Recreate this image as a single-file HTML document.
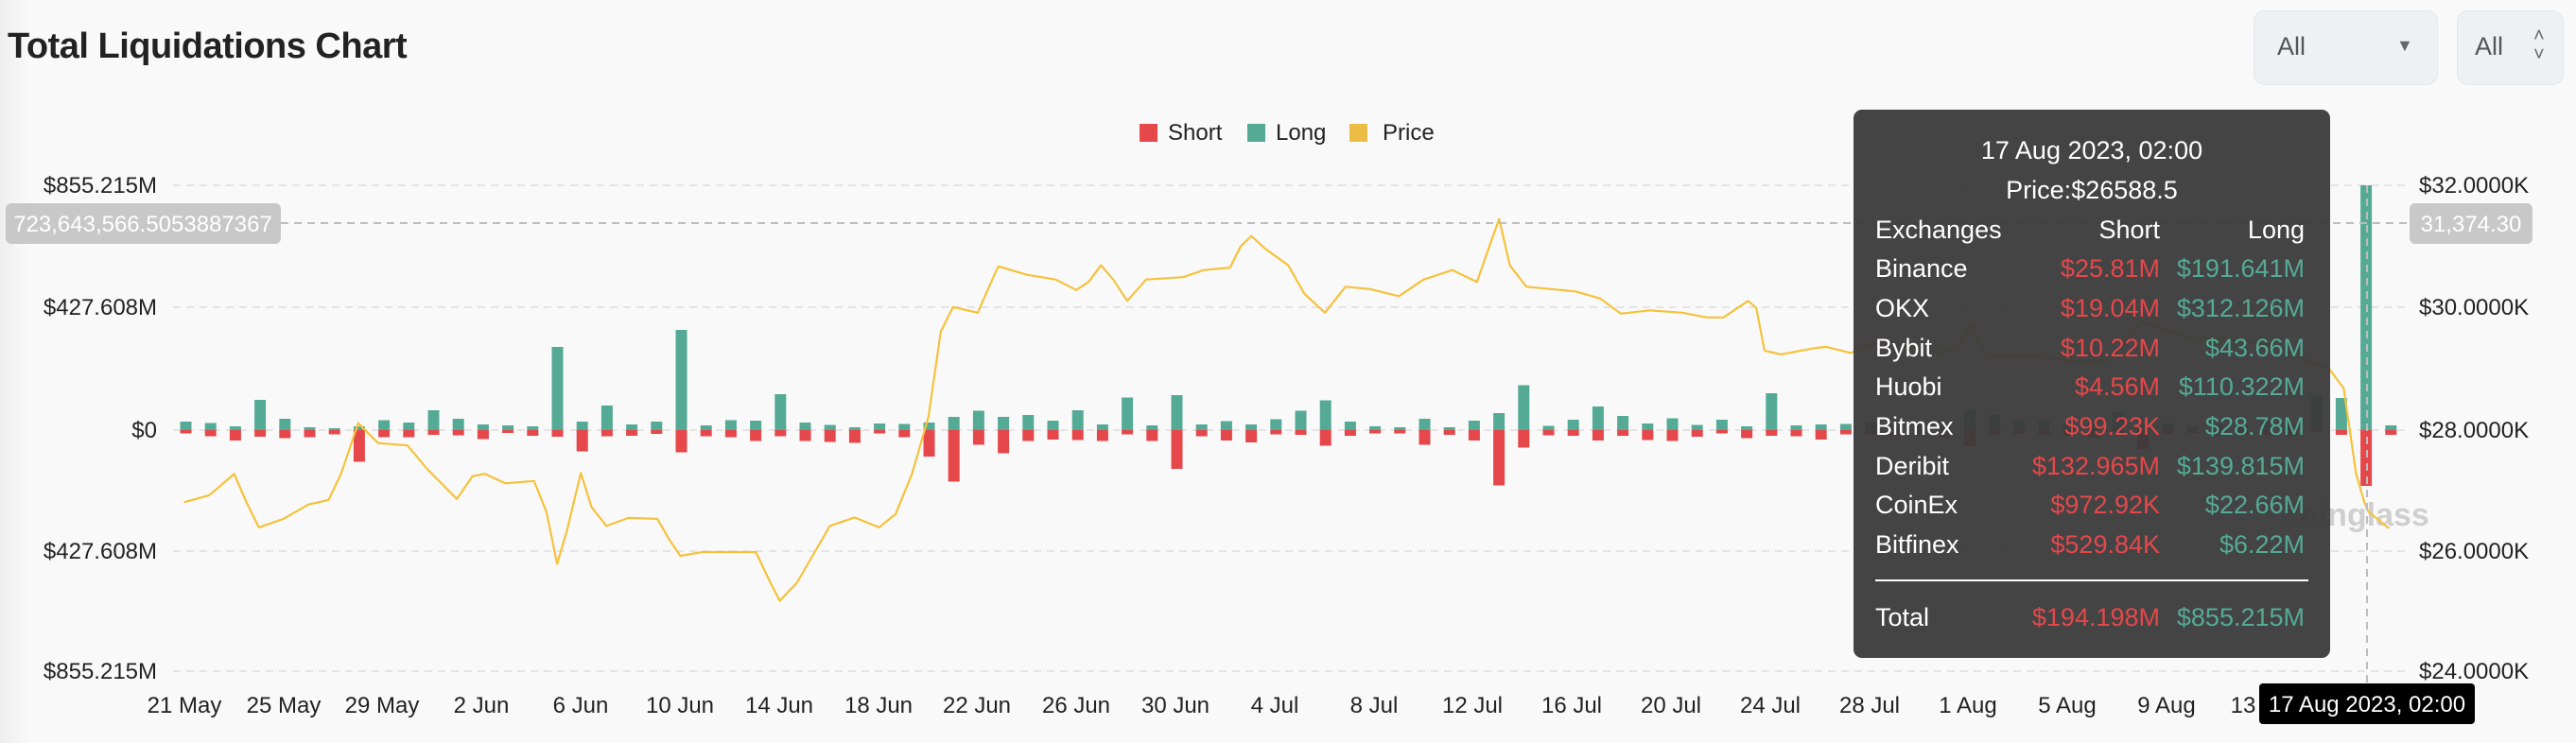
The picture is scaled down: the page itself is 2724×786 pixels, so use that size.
<!DOCTYPE html>
<html><head><meta charset="utf-8"><style>
html,body{margin:0;padding:0;}
body{width:2724px;height:786px;overflow:hidden;background:#f9f9f9;font-family:"Liberation Sans",sans-serif;position:relative;}
.sh{position:absolute;left:0;top:0;width:30px;height:786px;background:linear-gradient(to right,#eeeeee,#f9f9f9);}
.title{position:absolute;left:8px;top:28px;font-size:38px;font-weight:bold;color:#222;letter-spacing:-0.5px;}
.dd{position:absolute;top:11px;height:79px;background:#eef0f3;border-radius:12px;border:1px solid #e4e6ea;box-sizing:border-box;font-size:27px;color:#555;}
</style></head><body>
<div class="sh"></div>
<div class="title">Total Liquidations Chart</div>
<div class="dd" style="left:2383px;width:195px;"><span style="position:absolute;left:24px;top:22px;">All</span><span style="position:absolute;left:150px;top:26px;font-size:18px;color:#666;">▼</span></div>
<div class="dd" style="left:2598px;width:113px;"><span style="position:absolute;left:18px;top:22px;">All</span><span style="position:absolute;left:80px;top:16px;font-size:20px;line-height:20px;color:#666;">˄<br>˅</span></div>
<svg width="2724" height="786" style="position:absolute;left:0;top:0" font-family="Liberation Sans, sans-serif">
<g fill="#222" font-size="24">
<rect x="1205" y="131" width="19" height="19" fill="#e5474b"/><text x="1235" y="148">Short</text>
<rect x="1319" y="131" width="19" height="19" fill="#55aa95"/><text x="1349" y="148">Long</text>
<rect x="1427" y="131" width="19" height="19" fill="#ebbd45"/><text x="1462" y="148">Price</text>
</g>
<g stroke="#e4e4e4" stroke-width="2" stroke-dasharray="8,6">
<line x1="183" y1="196" x2="2545" y2="196"/><line x1="183" y1="325" x2="2545" y2="325"/><line x1="183" y1="455" x2="2545" y2="455"/><line x1="183" y1="583" x2="2545" y2="583"/><line x1="183" y1="710" x2="2545" y2="710"/>
</g>
<g font-size="24" fill="#222" text-anchor="end">
<text x="166" y="204">$855.215M</text><text x="166" y="333">$427.608M</text><text x="166" y="463">$0</text><text x="166" y="591">$427.608M</text><text x="166" y="718">$855.215M</text>
</g>
<g font-size="24" fill="#222">
<text x="2558" y="204">$32.0000K</text><text x="2558" y="333">$30.0000K</text><text x="2558" y="463">$28.0000K</text><text x="2558" y="591">$26.0000K</text><text x="2558" y="718">$24.0000K</text>
</g>
<g font-size="24" fill="#222" text-anchor="middle">
<text x="195" y="754">21 May</text><text x="300" y="754">25 May</text><text x="404" y="754">29 May</text><text x="509" y="754">2 Jun</text><text x="614" y="754">6 Jun</text><text x="719" y="754">10 Jun</text><text x="824" y="754">14 Jun</text><text x="929" y="754">18 Jun</text><text x="1033" y="754">22 Jun</text><text x="1138" y="754">26 Jun</text><text x="1243" y="754">30 Jun</text><text x="1348" y="754">4 Jul</text><text x="1453" y="754">8 Jul</text><text x="1557" y="754">12 Jul</text><text x="1662" y="754">16 Jul</text><text x="1767" y="754">20 Jul</text><text x="1872" y="754">24 Jul</text><text x="1977" y="754">28 Jul</text><text x="2081" y="754">1 Aug</text><text x="2186" y="754">5 Aug</text><text x="2291" y="754">9 Aug</text><text x="2396" y="754">13 Aug</text>
</g>
<text x="2412" y="556" font-size="34" font-weight="bold" fill="#cfcfcf">coinglass</text>
<g transform="translate(1,0)">
<g fill="#55aa95">
<rect x="189.5" y="446" width="12" height="9"/><rect x="215.7" y="447.5" width="12" height="7.5"/><rect x="241.9" y="451" width="12" height="4"/><rect x="268.1" y="423" width="12" height="32"/><rect x="294.3" y="443" width="12" height="12"/><rect x="320.5" y="452" width="12" height="3"/><rect x="346.7" y="453" width="12" height="2"/><rect x="372.9" y="451" width="12" height="4"/><rect x="399.1" y="444.5" width="12" height="10.5"/><rect x="425.3" y="447" width="12" height="8"/>
<rect x="451.5" y="434" width="12" height="21"/><rect x="477.7" y="443" width="12" height="12"/><rect x="503.9" y="449" width="12" height="6"/><rect x="530.1" y="450" width="12" height="5"/><rect x="556.3" y="451" width="12" height="4"/><rect x="582.5" y="367" width="12" height="88"/><rect x="608.7" y="446" width="12" height="9"/><rect x="634.9" y="429" width="12" height="26"/><rect x="661.1" y="449" width="12" height="6"/><rect x="687.3" y="446" width="12" height="9"/>
<rect x="713.5" y="349" width="12" height="106"/><rect x="739.7" y="450" width="12" height="5"/><rect x="765.9" y="444.5" width="12" height="10.5"/><rect x="792.1" y="445" width="12" height="10"/><rect x="818.3" y="417" width="12" height="38"/><rect x="844.5" y="447" width="12" height="8"/><rect x="870.7" y="449.5" width="12" height="5.5"/><rect x="896.9" y="452" width="12" height="3"/><rect x="923.1" y="448" width="12" height="7"/><rect x="949.3" y="448.5" width="12" height="6.5"/>
<rect x="975.5" y="447" width="12" height="8"/><rect x="1001.7" y="441" width="12" height="14"/><rect x="1027.9" y="434.5" width="12" height="20.5"/><rect x="1054.1" y="441" width="12" height="14"/><rect x="1080.3" y="439" width="12" height="16"/><rect x="1106.5" y="445" width="12" height="10"/><rect x="1132.7" y="434" width="12" height="21"/><rect x="1158.9" y="449" width="12" height="6"/><rect x="1185.1" y="420.5" width="12" height="34.5"/><rect x="1211.3" y="450" width="12" height="5"/>
<rect x="1237.5" y="418" width="12" height="37"/><rect x="1263.7" y="449" width="12" height="6"/><rect x="1289.9" y="445.5" width="12" height="9.5"/><rect x="1316.1" y="449" width="12" height="6"/><rect x="1342.3" y="443.5" width="12" height="11.5"/><rect x="1368.5" y="434.5" width="12" height="20.5"/><rect x="1394.7" y="423.5" width="12" height="31.5"/><rect x="1420.9" y="446" width="12" height="9"/><rect x="1447.1" y="451" width="12" height="4"/><rect x="1473.3" y="452" width="12" height="3"/>
<rect x="1499.5" y="443" width="12" height="12"/><rect x="1525.7" y="452" width="12" height="3"/><rect x="1551.9" y="445" width="12" height="10"/><rect x="1578.1" y="437" width="12" height="18"/><rect x="1604.3" y="407.5" width="12" height="47.5"/><rect x="1630.5" y="450.5" width="12" height="4.5"/><rect x="1656.7" y="444" width="12" height="11"/><rect x="1682.9" y="430" width="12" height="25"/><rect x="1709.1" y="440" width="12" height="15"/><rect x="1735.3" y="448" width="12" height="7"/>
<rect x="1761.5" y="442.5" width="12" height="12.5"/><rect x="1787.7" y="449.5" width="12" height="5.5"/><rect x="1813.9" y="444" width="12" height="11"/><rect x="1840.1" y="451" width="12" height="4"/><rect x="1866.3" y="416" width="12" height="39"/><rect x="1892.5" y="450" width="12" height="5"/><rect x="1918.7" y="449" width="12" height="6"/><rect x="1944.9" y="448.5" width="12" height="6.5"/><rect x="1971.1" y="447" width="12" height="8"/><rect x="1997.3" y="450" width="12" height="5"/>
<rect x="2023.5" y="448" width="12" height="7"/><rect x="2049.7" y="449" width="12" height="6"/><rect x="2075.9" y="433.5" width="12" height="21.5"/><rect x="2102.1" y="439" width="12" height="16"/><rect x="2128.3" y="445" width="12" height="10"/><rect x="2154.5" y="445" width="12" height="10"/><rect x="2180.7" y="449" width="12" height="6"/><rect x="2206.9" y="447" width="12" height="8"/><rect x="2233.1" y="436" width="12" height="19"/><rect x="2259.3" y="449" width="12" height="6"/>
<rect x="2285.5" y="448" width="12" height="7"/><rect x="2311.7" y="451" width="12" height="4"/><rect x="2337.9" y="449" width="12" height="6"/><rect x="2364.1" y="450" width="12" height="5"/><rect x="2390.3" y="446" width="12" height="9"/><rect x="2416.5" y="449" width="12" height="6"/><rect x="2442.7" y="418.5" width="12" height="36.5"/><rect x="2468.9" y="421" width="12" height="34"/><rect x="2495.1" y="196" width="12" height="259"/><rect x="2521.3" y="450" width="12" height="5"/>
</g>
<g fill="#e5474b">
<rect x="189.5" y="455" width="12" height="3.5"/><rect x="215.7" y="455" width="12" height="6.5"/><rect x="241.9" y="455" width="12" height="11"/><rect x="268.1" y="455" width="12" height="7"/><rect x="294.3" y="455" width="12" height="8.5"/><rect x="320.5" y="455" width="12" height="7.5"/><rect x="346.7" y="455" width="12" height="4.5"/><rect x="372.9" y="455" width="12" height="33.5"/><rect x="399.1" y="455" width="12" height="7.5"/><rect x="425.3" y="455" width="12" height="7.5"/>
<rect x="451.5" y="455" width="12" height="5"/><rect x="477.7" y="455" width="12" height="5.5"/><rect x="503.9" y="455" width="12" height="9.5"/><rect x="530.1" y="455" width="12" height="3"/><rect x="556.3" y="455" width="12" height="6"/><rect x="582.5" y="455" width="12" height="7"/><rect x="608.7" y="455" width="12" height="22.5"/><rect x="634.9" y="455" width="12" height="6.5"/><rect x="661.1" y="455" width="12" height="6"/><rect x="687.3" y="455" width="12" height="4"/>
<rect x="713.5" y="455" width="12" height="23.5"/><rect x="739.7" y="455" width="12" height="6.5"/><rect x="765.9" y="455" width="12" height="7.5"/><rect x="792.1" y="455" width="12" height="11.5"/><rect x="818.3" y="455" width="12" height="6.5"/><rect x="844.5" y="455" width="12" height="11.5"/><rect x="870.7" y="455" width="12" height="12.5"/><rect x="896.9" y="455" width="12" height="13.5"/><rect x="923.1" y="455" width="12" height="3.5"/><rect x="949.3" y="455" width="12" height="7.5"/>
<rect x="975.5" y="455" width="12" height="28"/><rect x="1001.7" y="455" width="12" height="54.5"/><rect x="1027.9" y="455" width="12" height="15.5"/><rect x="1054.1" y="455" width="12" height="24.5"/><rect x="1080.3" y="455" width="12" height="11.5"/><rect x="1106.5" y="455" width="12" height="10"/><rect x="1132.7" y="455" width="12" height="10.5"/><rect x="1158.9" y="455" width="12" height="11.5"/><rect x="1185.1" y="455" width="12" height="4.5"/><rect x="1211.3" y="455" width="12" height="11.5"/>
<rect x="1237.5" y="455" width="12" height="41"/><rect x="1263.7" y="455" width="12" height="6.5"/><rect x="1289.9" y="455" width="12" height="11"/><rect x="1316.1" y="455" width="12" height="13"/><rect x="1342.3" y="455" width="12" height="4.5"/><rect x="1368.5" y="455" width="12" height="5"/><rect x="1394.7" y="455" width="12" height="16.5"/><rect x="1420.9" y="455" width="12" height="6"/><rect x="1447.1" y="455" width="12" height="3.5"/><rect x="1473.3" y="455" width="12" height="3.5"/>
<rect x="1499.5" y="455" width="12" height="15.5"/><rect x="1525.7" y="455" width="12" height="5"/><rect x="1551.9" y="455" width="12" height="11"/><rect x="1578.1" y="455" width="12" height="58.5"/><rect x="1604.3" y="455" width="12" height="18.5"/><rect x="1630.5" y="455" width="12" height="5.5"/><rect x="1656.7" y="455" width="12" height="6"/><rect x="1682.9" y="455" width="12" height="11"/><rect x="1709.1" y="455" width="12" height="6"/><rect x="1735.3" y="455" width="12" height="10.5"/>
<rect x="1761.5" y="455" width="12" height="11.5"/><rect x="1787.7" y="455" width="12" height="7"/><rect x="1813.9" y="455" width="12" height="3.5"/><rect x="1840.1" y="455" width="12" height="8.5"/><rect x="1866.3" y="455" width="12" height="6"/><rect x="1892.5" y="455" width="12" height="6.5"/><rect x="1918.7" y="455" width="12" height="10"/><rect x="1944.9" y="455" width="12" height="4.5"/><rect x="1971.1" y="455" width="12" height="5"/><rect x="1997.3" y="455" width="12" height="6"/>
<rect x="2023.5" y="455" width="12" height="4"/><rect x="2049.7" y="455" width="12" height="8"/><rect x="2075.9" y="455" width="12" height="17"/><rect x="2102.1" y="455" width="12" height="5"/><rect x="2128.3" y="455" width="12" height="4"/><rect x="2154.5" y="455" width="12" height="5"/><rect x="2180.7" y="455" width="12" height="6"/><rect x="2206.9" y="455" width="12" height="8"/><rect x="2233.1" y="455" width="12" height="3"/><rect x="2259.3" y="455" width="12" height="20"/>
<rect x="2285.5" y="455" width="12" height="4"/><rect x="2311.7" y="455" width="12" height="3"/><rect x="2337.9" y="455" width="12" height="6"/><rect x="2364.1" y="455" width="12" height="5"/><rect x="2390.3" y="455" width="12" height="5"/><rect x="2416.5" y="455" width="12" height="6"/><rect x="2442.7" y="455" width="12" height="2"/><rect x="2468.9" y="455" width="12" height="5"/><rect x="2495.1" y="455" width="12" height="59"/><rect x="2521.3" y="455" width="12" height="5"/>
</g>
</g>
<polyline fill="none" stroke="#f5c23c" stroke-width="2.2" stroke-linejoin="round" points="194.6,531.3 221.5,523.8 247.6,501.3 260.6,531.3 273.7,557.9 299.7,548.9 325.8,533.8 347.5,528.8 360.6,501.3 378.8,447.6 399.7,468.7 430.9,471.2 451.8,496.2 483.1,527.8 499.6,503.8 512.6,501.3 534.3,511.3 564.7,508.8 577.8,541.4 589.1,596.5 599.5,561.4 614.2,500.3 625.5,536.3 641.2,556.4 664.6,547.9 695.1,548.9 708.1,571.4 719.4,588 742.8,584 799.3,584 812.3,611.5 824.5,635.6 842.7,616.5 860.1,586.5 877.5,556.4 903.6,547.4 929.6,557.9 947,543.9 964.4,501.3 981.8,441.1 994.8,350.9 1007.8,324.8 1033.9,330.8 1042.6,310.8 1055.6,281.7 1086,290.7 1116.4,295.7 1138.1,306.8 1151.2,298.2 1164.2,280.7 1177.2,295.7 1192,318.3 1212,295.7 1251.1,293.2 1272.8,285.7 1300.6,283.2 1311.9,260.7 1323.2,249.6 1338,263.2 1362.3,280.7 1379.4,310.8 1401.1,330.8 1422.8,303.3 1448.9,305.8 1479.3,313.3 1505.4,295.7 1535.8,285.7 1561.8,298.2 1574.9,260.7 1585.3,231.6 1596.6,280.7 1614,303.3 1666.1,308.3 1692.1,315.8 1713.9,331.8 1744.3,328.3 1779,330.8 1805.1,335.8 1822.5,335.8 1848.5,318.3 1857.2,325.8 1865.9,370.9 1883.3,374.9 1918,368.4 1931.1,366.9 1957.1,373.4 1987.6,360.9 2048.4,373.4 2070.1,368.4 2083.1,343.4 2100.5,375.9 2143.9,375.9 2204.7,383.5 2230.8,380.9 2248.2,360.9 2265.6,340.9 2282.9,345.9 2317.7,358.4 2361.1,358.4 2404.6,365.9 2439.3,380.9 2463.7,391 2478.4,411 2491.5,501.3 2500.2,531.3 2504.5,541.4 2526.2,558.9"/>
<g stroke="#bdbdbd" stroke-width="2" stroke-dasharray="8,6">
<line x1="297" y1="236" x2="2548" y2="236"/>
<line x1="2503" y1="196" x2="2503" y2="723"/>
</g>
<rect x="6" y="215" width="291" height="43" rx="6" fill="#c8c8c8"/>
<text x="151" y="245" font-size="24" fill="#fff" text-anchor="middle">723,643,566.5053887367</text>
<rect x="2548" y="215" width="130" height="43" rx="6" fill="#c8c8c8"/>
<text x="2613" y="245" font-size="24" fill="#fff" text-anchor="middle">31,374.30</text>
<rect x="2389" y="723" width="228" height="43" rx="4" fill="#000"/>
<text x="2503" y="753" font-size="24" fill="#fff" text-anchor="middle">17 Aug 2023, 02:00</text>
<rect x="1960" y="116" width="504" height="580" rx="9" fill="#3a3a3a" fill-opacity="0.95"/>
<g font-size="27" fill="#fff">
<text x="2212" y="168" text-anchor="middle">17 Aug 2023, 02:00</text>
<text x="2212" y="210" text-anchor="middle">Price:$26588.5</text>
<text x="1983" y="252">Exchanges</text><text x="2284" y="252" text-anchor="end">Short</text><text x="2437" y="252" text-anchor="end">Long</text>
<text x="1983" y="293">Binance</text><text x="1983" y="335">OKX</text><text x="1983" y="377">Bybit</text><text x="1983" y="418">Huobi</text><text x="1983" y="460">Bitmex</text><text x="1983" y="502">Deribit</text><text x="1983" y="543">CoinEx</text><text x="1983" y="585">Bitfinex</text><text x="1983" y="662">Total</text>
</g>
<g font-size="27" fill="#e5474b" text-anchor="end">
<text x="2284" y="293">$25.81M</text><text x="2284" y="335">$19.04M</text><text x="2284" y="377">$10.22M</text><text x="2284" y="418">$4.56M</text><text x="2284" y="460">$99.23K</text><text x="2284" y="502">$132.965M</text><text x="2284" y="543">$972.92K</text><text x="2284" y="585">$529.84K</text><text x="2284" y="662">$194.198M</text>
</g>
<g font-size="27" fill="#55aa95" text-anchor="end">
<text x="2437" y="293">$191.641M</text><text x="2437" y="335">$312.126M</text><text x="2437" y="377">$43.66M</text><text x="2437" y="418">$110.322M</text><text x="2437" y="460">$28.78M</text><text x="2437" y="502">$139.815M</text><text x="2437" y="543">$22.66M</text><text x="2437" y="585">$6.22M</text><text x="2437" y="662">$855.215M</text>
</g>
<line x1="1983" y1="614" x2="2441" y2="614" stroke="#fff" stroke-width="2"/>
</svg>
</body></html>
